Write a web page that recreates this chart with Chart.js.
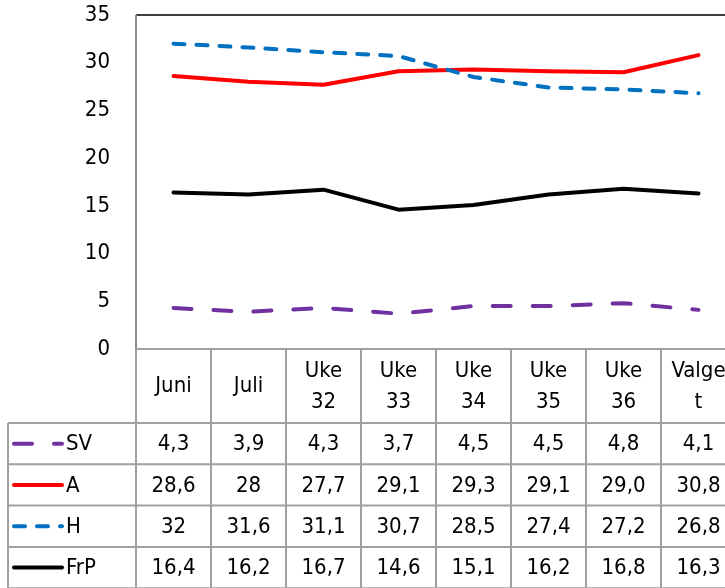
<!DOCTYPE html>
<html>
<head>
<meta charset="utf-8">
<script src="https://cdn.jsdelivr.net/npm/chart.js@4/dist/chart.umd.min.js"></script>
<style>
  html,body{margin:0;padding:0;background:#fff;overflow:hidden;}
  #wrap{width:760px;height:588px;position:relative;}
</style>
</head>
<body>
<div id="wrap"><canvas id="c" width="760" height="588"></canvas></div>
<script>
// === Data ===
const categories = ['Juni','Juli',['Uke','32'],['Uke','33'],['Uke','34'],['Uke','35'],['Uke','36'],['Valge','t']];
const seriesNames = ['SV','A','H','FrP'];
const SV  = [4.3, 3.9, 4.3, 3.7, 4.5, 4.5, 4.8, 4.1];
const A   = [28.6, 28, 27.7, 29.1, 29.3, 29.1, 29.0, 30.8];
const H   = [32, 31.6, 31.1, 30.7, 28.5, 27.4, 27.2, 26.8];
const FrP = [16.4, 16.2, 16.7, 14.6, 15.1, 16.2, 16.8, 16.3];
// printed like the table in the original
const tableSV  = ['4,3','3,9','4,3','3,7','4,5','4,5','4,8','4,1'];
const tableA   = ['28,6','28','27,7','29,1','29,3','29,1','29,0','30,8'];
const tableH   = ['32','31,6','31,1','30,7','28,5','27,4','27,2','26,8'];
const tableFrP = ['16,4','16,2','16,7','14,6','15,1','16,2','16,8','16,3'];
const yTicks = [0,5,10,15,20,25,30,35];

const FONT = '"Liberation Sans Narrow", "DejaVu Sans Condensed", "Liberation Sans", sans-serif';
const FSIZE = 22;

// === Data table under the plot (Excel style) ===
const dataTable = {
  id:'dataTable',
  afterDraw(chart){
    const ctx = chart.ctx, xs = chart.scales.x, ca = chart.chartArea;
    const step = xs.getPixelForValue(1) - xs.getPixelForValue(0);
    const n = categories.length;
    const left = ca.left, right = xs.getPixelForValue(n-1) + step/2;
    const headBot = 423, rowH = 41.3, keyLeft = 8;
    ctx.save();
    // plot frame
    ctx.lineWidth = 2;
    ctx.strokeStyle = '#404040';
    ctx.beginPath(); ctx.moveTo(left, ca.top); ctx.lineTo(right, ca.top); ctx.stroke();
    ctx.strokeStyle = '#8c8c8c';
    ctx.beginPath(); ctx.moveTo(left, ca.top); ctx.lineTo(left, ca.bottom); ctx.stroke();
    // table grid
    ctx.strokeStyle = '#a0a0a0';
    ctx.beginPath();
    ctx.moveTo(left, ca.bottom); ctx.lineTo(right, ca.bottom);
    for(let i=0;i<=n;i++){ const x = left + i*step; ctx.moveTo(x, ca.bottom); ctx.lineTo(x, 600); }
    for(let r=0;r<=4;r++){ const y = headBot + r*rowH; ctx.moveTo(keyLeft, y); ctx.lineTo(right, y); }
    ctx.moveTo(keyLeft, headBot); ctx.lineTo(keyLeft, 600);
    ctx.stroke();
    // header labels
    ctx.fillStyle = '#000';
    ctx.font = FSIZE + 'px ' + FONT;
    ctx.textAlign = 'center'; ctx.textBaseline = 'middle';
    const headMid = (ca.bottom + headBot)/2;
    categories.forEach((c,i)=>{
      const x = xs.getPixelForValue(i);
      if(Array.isArray(c)){ ctx.fillText(c[0], x, headMid-15); ctx.fillText(c[1], x, headMid+16); }
      else ctx.fillText(c, x, headMid);
    });
    // rows
    const rows = [tableSV, tableA, tableH, tableFrP];
    chart.data.datasets.forEach((ds,r)=>{
      const y = headBot + r*rowH + rowH/2;
      ctx.textAlign = 'center';
      rows[r].forEach((t,i)=> ctx.fillText(t, xs.getPixelForValue(i), y+1));
      // legend key
      ctx.save();
      ctx.strokeStyle = ds.borderColor; ctx.lineWidth = 4; ctx.lineCap = 'round';
      ctx.setLineDash(ds.borderDash || []);
      ctx.beginPath(); ctx.moveTo(14, y); ctx.lineTo(62, y); ctx.stroke();
      ctx.restore();
      ctx.textAlign = 'left';
      ctx.fillText(ds.label, 66, y+1);
    });
    ctx.restore();
  }
};

new Chart(document.getElementById('c'), {
  type:'line',
  data:{
    labels: categories,
    datasets:[
      {label:seriesNames[0], data:SV,  borderColor:'#7030a0', borderDash:[18,22], order:4},
      {label:seriesNames[1], data:A,   borderColor:'#ff0000', order:3},
      {label:seriesNames[2], data:H,   borderColor:'#0070c0', borderDash:[11,12], order:2},
      {label:seriesNames[3], data:FrP, borderColor:'#000000', order:1}
    ].map(d=>Object.assign({borderWidth:4, pointRadius:0, tension:0, fill:false, borderCapStyle:'round', borderJoinStyle:'round'}, d))
  },
  options:{
    responsive:false, animation:false,
    layout:{padding:{top:15, right:24, bottom:239, left:0}},
    plugins:{legend:{display:false}, tooltip:{enabled:false}},
    scales:{
      x:{display:false, offset:true},
      y:{
        min:0, max:35,
        afterFit(s){ s.width = 136; s.paddingTop = 0; s.paddingBottom = 0; },
        afterBuildTicks(s){ s.ticks = yTicks.map(v=>({value:v})); },
        grid:{display:false, drawTicks:false},
        border:{display:false},
        ticks:{padding:26, color:'#000', font:{family:FONT, size:FSIZE}}
      }
    }
  },
  plugins:[dataTable]
});
</script>
</body>
</html>
